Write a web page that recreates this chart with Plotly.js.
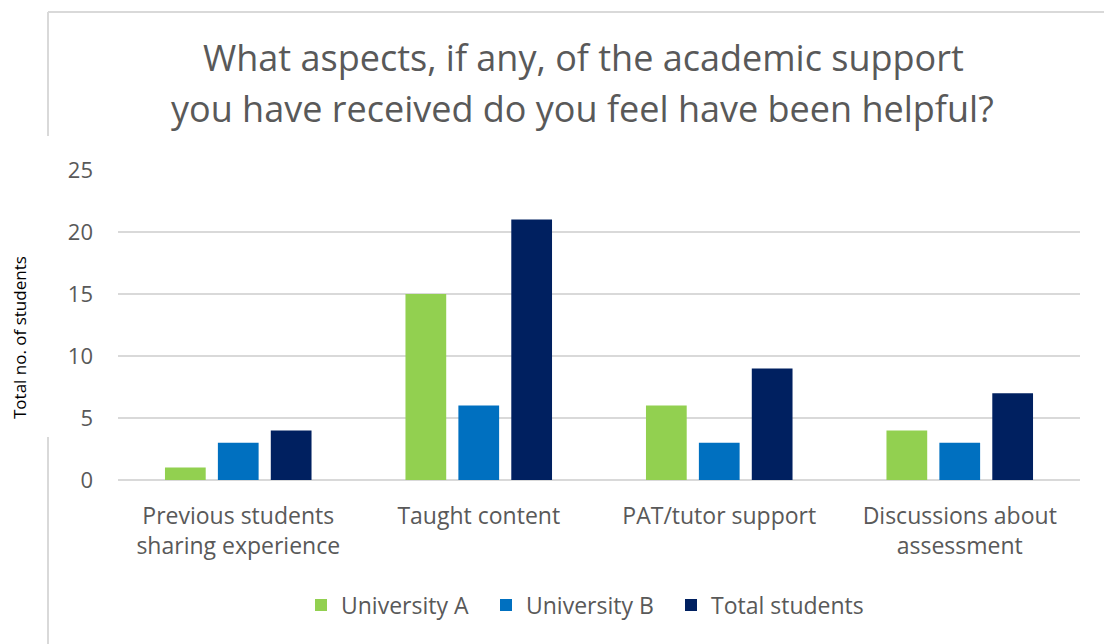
<!DOCTYPE html>
<html>
<head>
<meta charset="utf-8">
<script src="https://cdn.plot.ly/plotly-3.0.1.min.js"></script>
<style>html,body{margin:0;padding:0;background:#fff;}#chart{width:1104px;height:644px;}</style>
</head>
<body>
<div id="chart"></div>
<script>
const categories = ["Previous students<br>sharing experience", "Taught content", "PAT/tutor support", "Discussions about<br>assessment"];
const seriesNames = ["University A", "University B", "Total students"];
const universityA = [1, 15, 6, 4];
const universityB = [3, 6, 3, 3];
const totalStudents = [4, 21, 9, 7];
const seriesColors = ["#92D050", "#0070C0", "#002060"];
const titleLines = ["What aspects, if any, of the academic support", "you have received do you feel have been helpful?"];
const yTitle = "Total no. of students";
const yTicks = [0, 5, 10, 15, 20, 25];

// legend entry widths (style only)
const legendEntryWidths = [140, 140, 175];

const values = [universityA, universityB, totalStudents];
const traces = values.map((v, i) => ({
  type: "bar",
  name: seriesNames[i],
  x: categories,
  y: v,
  marker: {color: seriesColors[i]},
  legendwidth: legendEntryWidths[i],
  hoverinfo: "x+y+name"
}));

const gray = "#595959";
const fam = "Open Sans, DejaVu Sans, sans-serif";
const borderColor = "#d9d9d9";

// pixel helpers for decorative frame (plot area spans x 118..1080, y 170..480)
const px = v => (v - 118) / 962;
const py = v => (480 - v) / 310;

const layout = {
  width: 1104, height: 644,
  margin: {l: 118, r: 24, t: 170, b: 164, pad: 0},
  paper_bgcolor: "#ffffff",
  plot_bgcolor: "#ffffff",
  barmode: "group",
  bargap: 0.34,
  bargroupgap: 0.23,
  showlegend: true,
  legend: {
    orientation: "h",
    x: px(301), xanchor: "left",
    y: py(605), yanchor: "middle",
    font: {family: fam, size: 23, color: gray},
    itemwidth: 30,
    traceorder: "normal"
  },
  xaxis: {
    type: "category",
    showgrid: false,
    showline: false,
    zeroline: false,
    ticks: "",
    tickfont: {family: fam, size: 23, color: gray},
    ticklabelstandoff: 20,
    fixedrange: true
  },
  yaxis: {
    range: [0, 25],
    tickvals: yTicks,
    showgrid: true,
    gridcolor: borderColor,
    gridwidth: 1.5,
    zeroline: true,
    zerolinecolor: borderColor,
    zerolinewidth: 1.5,
    showline: false,
    ticks: "",
    tickfont: {family: fam, size: 22, color: gray},
    ticklabelstandoff: 24,
    fixedrange: true
  },
  annotations: [
    {text: titleLines[0], xref: "paper", yref: "paper", x: px(583), y: py(57), xanchor: "center", yanchor: "middle", showarrow: false,
     font: {family: fam, size: 36, color: gray}},
    {text: titleLines[1], xref: "paper", yref: "paper", x: px(582), y: py(108), xanchor: "center", yanchor: "middle", showarrow: false,
     font: {family: fam, size: 36, color: gray}},
    {text: yTitle, xref: "paper", yref: "paper", x: px(19), y: py(338), xanchor: "center", yanchor: "middle", textangle: -90, showarrow: false,
     font: {family: fam, size: 17, color: "#000000"}}
  ],
  shapes: [
    {type: "line", xref: "paper", yref: "paper", x0: px(48), x1: px(1104), y0: py(12), y1: py(12), line: {color: borderColor, width: 2}},
    {type: "line", xref: "paper", yref: "paper", x0: px(48), x1: px(48), y0: py(12), y1: py(136), line: {color: borderColor, width: 2}},
    {type: "line", xref: "paper", yref: "paper", x0: px(48), x1: px(48), y0: py(437), y1: py(644), line: {color: borderColor, width: 2}}
  ]
};

Plotly.newPlot("chart", traces, layout, {displayModeBar: false, staticPlot: true});
</script>
</body>
</html>
